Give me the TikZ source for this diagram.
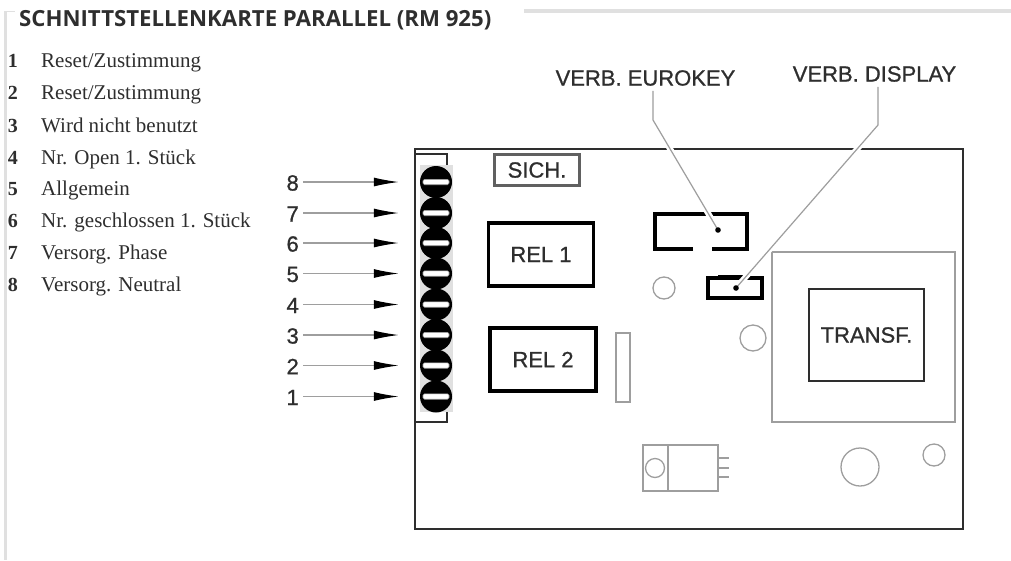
\documentclass[tikz,border=0pt]{standalone}
\usepackage{fontspec}
\setmainfont{Liberation Serif}
\newfontfamily\partfont[FakeBold=0.9]{Liberation Sans}
\newfontfamily\titlefont{Open Sans}
\usetikzlibrary{arrows.meta}
\definecolor{inkdark}{gray}{0.18}
\definecolor{inkgrey}{gray}{0.62}
\definecolor{framegrey}{gray}{0.88}
\tikzset{
  boardline/.style={draw=inkdark,line width=2.4pt},
  relbox/.style={draw=black,line width=3.3pt,inner sep=0pt,text=inkdark,font=\partfont\fontsize{22}{22}\selectfont},
  thinpart/.style={draw=inkgrey,line width=1.3pt},
  partlabel/.style={inner sep=0pt,text=inkdark,font=\partfont\fontsize{22}{22}\selectfont},
  screwhead/.style={circle,fill=black,minimum size=32pt,inner sep=0pt},
  pinarrow/.style={draw=inkgrey,line width=1.2pt,-{Latex[length=25pt,width=9pt,black]},shorten >=21pt},
  leaderline/.style={draw=inkgrey,line width=1.2pt,preaction={draw=white,line width=6pt}},
  listnum/.style={inner sep=0pt,anchor=base,text=inkdark,font=\bfseries\fontsize{20}{20}\selectfont},
  listtext/.style={inner sep=0pt,anchor=base west,text=inkdark,font=\fontsize{21}{21}\selectfont}
}
\begin{document}
\begin{tikzpicture}[x=1pt,y=-1pt]
  \useasboundingbox (0,0) rectangle (1011,560);
  % page frame
  \draw[framegrey,line width=3pt] (5,560) -- (5,11);
  \draw[framegrey,line width=1pt] (5,11) -- (15,11);
  \draw[framegrey,line width=4pt] (524,11) -- (1011,11);
  \node[inner sep=0pt,anchor=west,text=inkdark,font=\titlefont\bfseries\fontsize{22.2}{22.2}\selectfont] (title) at (19,20) {SCHNITTSTELLENKARTE PARALLEL (RM 925)};
  % list of terminals
  \foreach \i/\yval/\txt in {1/67/{Reset/Zustimmung}, 2/99/{Reset/Zustimmung}, 3/132/{Wird nicht benutzt}, 4/164/{Nr. Open 1. Stück}, 5/195/{Allgemein}, 6/227/{Nr. geschlossen 1. Stück}, 7/259/{Versorg. Phase}, 8/291/{Versorg. Neutral}} {
    \node[listnum] (num\i) at (13,\yval) {\i};
    \node[listtext] (txt\i) at (41,\yval) {\txt};
  }
  % board
  \draw[boardline] (415,149) rectangle (963,529);
  % terminal strip
  \fill[framegrey] (420,165) rectangle (453,412);
  \draw[draw=inkdark,line width=1.4pt] (415,154) -- (447,154) -- (447,165);
  \draw[draw=inkdark,line width=1.4pt] (415,422) -- (447,422) -- (447,412);
  \foreach \i/\yval in {8/182, 7/213, 6/243, 5/273.5, 4/304.5, 3/335, 2/365.5, 1/396.5} {
    \node[screwhead] (scr\i) at (436,\yval) {};
    \draw[fill=white,draw=inkgrey,line width=0.6pt,rounded corners=1.5pt] (423,\yval-2.7) rectangle (449,\yval+2.7);
    \node[partlabel,anchor=east] (lab\i) at (299,\yval+1) {\i};
    \draw[pinarrow] (lab\i.east) ++(4,-1) coordinate (start\i) (start\i) -- (scr\i.west);
  }
  % parts
  \node[relbox,draw=gray!75!black,line width=2.6pt,minimum width=85pt,minimum height=31pt] (sich) at (537,170) {SICH.};
  \node[relbox,minimum width=105pt,minimum height=63pt] (rel1) at (541,254.5) {REL 1};
  \node[relbox,minimum width=106pt,minimum height=63pt] (rel2) at (543,359.5) {REL 2};
  \draw[thinpart] (616,333) rectangle (630,402);
  \draw[thinpart] (772,252) rectangle (955,422);
  \node[relbox,draw=inkdark,line width=2.6pt,minimum width=115pt,minimum height=92pt] (transf) at (866.5,335) {TRANSF.};
  \draw[thinpart] (664,288) circle[radius=11];
  \draw[thinpart] (753,338) circle[radius=13];
  \draw[thinpart] (860,467) circle[radius=19];
  \draw[thinpart] (934,455) circle[radius=11];
  % regulator
  \draw[thinpart] (643,445) rectangle (718,491) (668,445) -- (668,491);
  \draw[thinpart] (655,468) circle[radius=9.5];
  \foreach \yval in {458,468,477} \draw[thinpart] (718,\yval) -- (729,\yval);
  % sockets
  \draw[black,line width=3.5pt] (693,249) -- (655,249) -- (655,214) -- (747,214) -- (747,249) -- (712,249);
  \draw[black,line width=3.2pt] (708,278) rectangle (762,298);
  \draw[black,line width=2pt] (718,276) -- (745,276);
  \coordinate (dotkey) at (718,230);
  \coordinate (dotdisp) at (736,288);
  % leaders
  \node[partlabel] (verbkey) at (645.5,78) {VERB. EUROKEY};
  \node[partlabel] (verbdisp) at (874.5,74) {VERB. DISPLAY};
  \coordinate (bendkey) at (653,120);
  \coordinate (benddisp) at (878,125);
  \draw[leaderline] (verbkey.south -| bendkey) ++(0,5) -- (bendkey) -- (dotkey);
  \draw[leaderline] (verbdisp.south -| benddisp) ++(0,5) -- (benddisp) -- (dotdisp);
  \fill[black] (dotkey) circle[radius=2.8];
  \fill[black] (dotdisp) circle[radius=2.8];
\end{tikzpicture}
\end{document}
